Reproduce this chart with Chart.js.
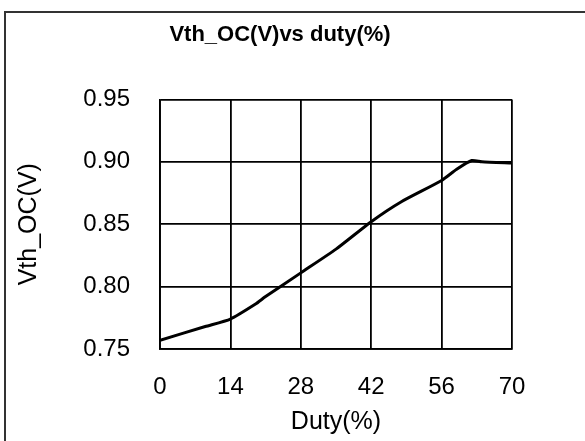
<!DOCTYPE html>
<html>
<head>
<meta charset="utf-8">
<script src="https://cdn.jsdelivr.net/npm/chart.js@4.4.1/dist/chart.umd.min.js"></script>
<style>
  html, body { margin: 0; padding: 0; background: #fff; }
  #wrap { width: 585px; height: 441px; }
</style>
</head>
<body>
<div id="wrap"><canvas id="chart" width="585" height="441"></canvas></div>
<script>
// values
const duty = [0, 9, 14, 19, 21, 28, 35, 42, 48, 56, 59, 62, 64, 70];
const vthOC = [0.757, 0.768, 0.774, 0.786, 0.792, 0.811, 0.830, 0.852, 0.868, 0.885, 0.894, 0.901, 0.900, 0.899];
const xTicks = [0, 14, 28, 42, 56, 70];
const yTicks = [0.75, 0.80, 0.85, 0.90, 0.95];

const FONT = "'Liberation Sans', Arial, sans-serif";

// outer frame of the figure
const framePlugin = {
  id: 'frame',
  beforeDraw(chart) {
    const ctx = chart.ctx;
    ctx.save();
    ctx.fillStyle = '#fff';
    ctx.fillRect(0, 0, chart.width, chart.height);
    ctx.strokeStyle = '#333';
    ctx.lineWidth = 2;
    ctx.strokeRect(5, 12, 700, 600);
    ctx.restore();
  }
};

new Chart(document.getElementById('chart'), {
  type: 'line',
  data: {
    datasets: [{
      data: duty.map((d, i) => ({ x: d, y: vthOC[i] })),
      borderColor: '#000',
      borderWidth: 3,
      pointRadius: 0,
      tension: 0.2,
      fill: false
    }]
  },
  options: {
    responsive: false,
    animation: false,
    layout: { padding: { left: 5, right: 30, top: 0, bottom: 0 } },
    plugins: {
      legend: { display: false },
      tooltip: { enabled: false },
      title: {
        display: true,
        text: 'Vth_OC(V)vs duty(%)',
        color: '#000',
        font: { family: FONT, size: 22, weight: 'bold' },
        padding: { top: 22, bottom: 51 }
      }
    },
    scales: {
      x: {
        type: 'linear',
        min: xTicks[0],
        max: xTicks[xTicks.length - 1],
        afterBuildTicks: s => { s.ticks = xTicks.map(v => ({ value: v })); },
        afterFit: s => { s.height = 92; },
        grid: { color: '#000', lineWidth: 1.8, drawTicks: false },
        border: { color: '#000', width: 1.8 },
        ticks: { color: '#000', padding: 24, font: { family: FONT, size: 24 } },
        title: {
          display: true, text: 'Duty(%)', color: '#000',
          font: { family: FONT, size: 25 }, padding: { top: 0, bottom: 4 }
        }
      },
      y: {
        type: 'linear',
        min: yTicks[0],
        max: yTicks[yTicks.length - 1],
        afterBuildTicks: s => { s.ticks = yTicks.map(v => ({ value: v })); },
        afterFit: s => { s.width = 155; },
        grid: { color: '#000', lineWidth: 1.8, drawTicks: false },
        border: { color: '#000', width: 1.8 },
        ticks: {
          color: '#000', padding: 30, font: { family: FONT, size: 24 },
          callback: v => Number(v).toFixed(2)
        },
        title: {
          display: true, text: 'Vth_OC(V)', color: '#000',
          font: { family: FONT, size: 25 }, padding: { top: 9, bottom: 0 }
        }
      },
      // empty right-hand gutter so the title centres where the reference has it
      gutter: {
        type: 'linear',
        position: 'right',
        afterFit: s => { s.width = 43; },
        grid: { display: false },
        border: { display: false },
        ticks: { display: false }
      }
    }
  },
  plugins: [framePlugin]
});
</script>
</body>
</html>
